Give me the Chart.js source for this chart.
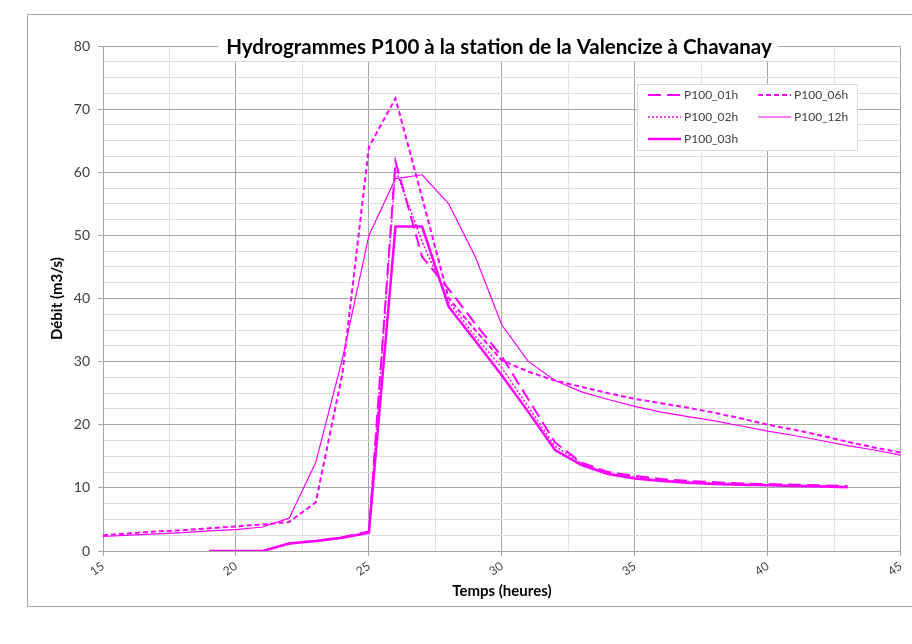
<!DOCTYPE html>
<html>
<head>
<meta charset="utf-8">
<script src="https://cdn.jsdelivr.net/npm/chart.js@4"></script>
<style>
  html, body { margin: 0; padding: 0; background: #fff; }
  #wrap { width: 912px; height: 644px; position: relative; }
</style>
</head>
<body>
<div id="wrap"><canvas id="chart" width="912" height="644"></canvas></div>
<script>
// time steps (hours)
const hoursShort = [19,20,21,22,23,24,25,26,27,28,29,30,31,32,33,34,35,36,37,38,39,40,41,42,43];
const hoursLong = [15,16,17,18,19,20,21,22,23,24,25,26,27,28,29,30,31,32,33,34,35,36,37,38,39,40,41,42,43,44,45];

// discharge (m3/s)
const p100_01h = [0,0,0,1.2,1.6,2.2,3.1,61.7,46.6,41.5,36,30.8,24,17.2,14,12.5,11.9,11.4,11.1,10.9,10.7,10.6,10.5,10.4,10.3];
const p100_02h = [0,0,0,1.2,1.6,2.1,3.0,60.5,49,39.5,34,29,22.8,16.6,13.9,12.3,11.7,11.2,11,10.8,10.6,10.5,10.4,10.3,10.2];
const p100_03h = [0,0,0,1.2,1.6,2.1,2.9,51.4,51.4,38.7,33.3,27.8,22,16,13.6,12.2,11.5,11.1,10.8,10.6,10.5,10.4,10.3,10.2,10.1];
const p100_06h = [2.5,2.8,3.1,3.3,3.6,3.9,4.2,4.6,7.7,28,64,71.7,56,40,35,30.2,28.4,27,26,25,24.1,23.4,22.7,21.9,21,20,19.2,18.3,17.3,16.4,15.6];
const p100_12h = [2.3,2.5,2.7,2.9,3.2,3.4,3.8,5.2,14,30.4,50,59,59.6,55,46.6,35.8,30,27,25.2,24,22.9,22,21.3,20.6,19.8,19,18.3,17.5,16.7,16,15.2];

const xTicks = [15,20,25,30,35,40,45];
const yTicks = [0,10,20,30,40,50,60,70,80];

const MAGENTA = "#ff00ff";
const FONT = "Lato, 'Open Sans', sans-serif";

function pts(xs, ys) {
  return xs.map((x, i) => ({ x: x, y: ys[i] }));
}

// legend slots: [column, row]
const legendSlots = { "P100_01h": [0,0], "P100_02h": [0,1], "P100_03h": [0,2], "P100_06h": [1,0], "P100_12h": [1,1] };

const frame = {
  id: "frame",
  beforeDraw(chart) {
    const ctx = chart.ctx;
    ctx.save();
    ctx.fillStyle = "#fff";
    ctx.fillRect(0, 0, chart.width, chart.height);
    ctx.strokeStyle = "#a6a6a6";
    ctx.lineWidth = 1;
    ctx.strokeRect(27.5, 14.5, 920, 592);
    ctx.restore();
  },
  afterDraw(chart) {
    const ctx = chart.ctx;
    ctx.save();
    // title over the plot, on white
    ctx.fillStyle = "#fff";
    ctx.fillRect(218, 33, 560, 28);
    ctx.fillStyle = "#000";
    ctx.font = "bold 20.5px " + FONT;
    ctx.textAlign = "center";
    ctx.textBaseline = "middle";
    ctx.fillText("Hydrogrammes P100 à la station de la Valencize à Chavanay", 499, 47);

    // legend box
    ctx.fillStyle = "#fff";
    ctx.fillRect(637, 84, 220, 66);
    ctx.strokeStyle = "#d9d9d9";
    ctx.strokeRect(637.5, 84.5, 220, 66);
    ctx.font = "12px " + FONT;
    ctx.textAlign = "left";
    chart.data.datasets.forEach(ds => {
      const slot = legendSlots[ds.label];
      const x0 = slot[0] ? 758 : 648;
      const y = 95 + slot[1] * 22;
      ctx.strokeStyle = ds.borderColor;
      ctx.lineWidth = ds.borderWidth;
      ctx.setLineDash(ds.borderDash || []);
      ctx.beginPath();
      ctx.moveTo(x0, y);
      ctx.lineTo(x0 + 33, y);
      ctx.stroke();
      ctx.setLineDash([]);
      ctx.fillStyle = "#404040";
      ctx.fillText(ds.label, x0 + 36, y);
    });
    ctx.restore();
  }
};

new Chart(document.getElementById("chart"), {
  type: "line",
  data: {
    datasets: [
      { label: "P100_01h", data: pts(hoursShort, p100_01h), borderColor: MAGENTA, borderWidth: 2, borderDash: [13, 6] },
      { label: "P100_02h", data: pts(hoursShort, p100_02h), borderColor: MAGENTA, borderWidth: 1.5, borderDash: [2, 2] },
      { label: "P100_03h", data: pts(hoursShort, p100_03h), borderColor: MAGENTA, borderWidth: 2.5 },
      { label: "P100_06h", data: pts(hoursLong, p100_06h), borderColor: MAGENTA, borderWidth: 2, borderDash: [5, 3] },
      { label: "P100_12h", data: pts(hoursLong, p100_12h), borderColor: MAGENTA, borderWidth: 1.2 }
    ]
  },
  options: {
    responsive: false,
    animation: false,
    events: [],
    elements: { point: { radius: 0 }, line: { tension: 0, fill: false } },
    layout: { padding: { left: 40, top: 46, right: 11, bottom: 44 } },
    plugins: { legend: { display: false }, tooltip: { enabled: false }, title: { display: false } },
    scales: {
      x: {
        type: "linear",
        min: 15, max: 45,
        afterFit: s => { s.height = 49; },
        afterBuildTicks: s => {
          const t = [];
          for (let i = 0; i <= 12; i++) t.push({ value: 15 + i * 2.5 });
          s.ticks = t;
        },
        ticks: {
          autoSkip: false,
          minRotation: 35, maxRotation: 35,
          color: "#404040",
          font: { family: FONT, size: 12 },
          callback: v => xTicks.includes(v) ? String(v) : ""
        },
        grid: {
          color: c => xTicks.includes(c.tick.value) ? "#a6a6a6" : "#e3e3e3",
          tickColor: c => xTicks.includes(c.tick.value) ? "#a6a6a6" : "rgba(0,0,0,0)",
          tickLength: 5
        },
        border: { color: "#a6a6a6" },
        title: { display: true, text: "Temps (heures)", color: "#000", font: { family: FONT, size: 15, weight: "bold" }, padding: { top: 0, bottom: 0 } }
      },
      y: {
        min: 0, max: 80,
        afterFit: s => { s.width = 63; },
        afterBuildTicks: s => {
          const t = [];
          for (let i = 0; i <= 32; i++) t.push({ value: i * 2.5 });
          s.ticks = t;
        },
        ticks: {
          autoSkip: false,
          padding: 8,
          color: "#404040",
          font: { family: FONT, size: 14 },
          callback: v => yTicks.includes(v) ? String(v) : ""
        },
        grid: {
          color: c => yTicks.includes(c.tick.value) ? "#a6a6a6" : "#dcdcdc",
          tickColor: c => yTicks.includes(c.tick.value) ? "#a6a6a6" : "rgba(0,0,0,0)",
          tickLength: 5
        },
        border: { color: "#a6a6a6" },
        title: { display: true, text: "Débit (m3/s)", color: "#000", font: { family: FONT, size: 15, weight: "bold" }, padding: { top: 8, bottom: 0 } }
      }
    }
  },
  plugins: [frame]
});
</script>
</body>
</html>
